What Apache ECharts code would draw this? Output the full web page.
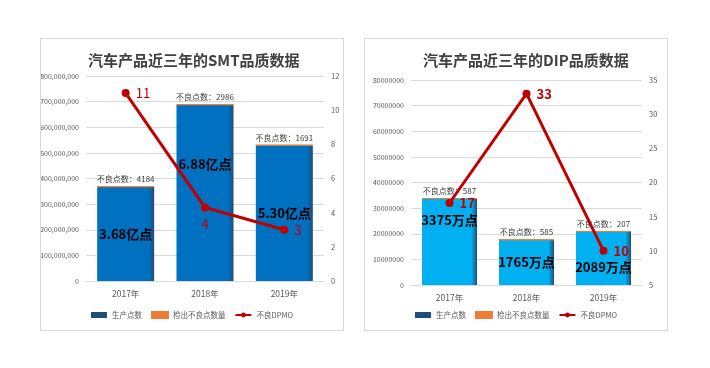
<!DOCTYPE html>
<html><head><meta charset="utf-8">
<script src="https://cdn.jsdelivr.net/npm/echarts@6/dist/echarts.min.js"></script>
<style>
html,body{margin:0;padding:0;background:#fff;width:710px;height:368px;overflow:hidden}
.p{position:absolute;top:38px;width:302px;height:291px;border:1.5px solid #d9d9d9;background:#fff}
</style></head><body>
<div id="c1" class="p" style="left:40px"></div>
<div id="c2" class="p" style="left:364px"></div>
<script>
// ---- data ----
var categories = ['2017年', '2018年', '2019年'];
var smtTitle = '汽车产品近三年的SMT品质数据';
var smtProduced = [368000000, 688000000, 530000000];
var smtProducedLabels = ['3.68亿点', '6.88亿点', '5.30亿点'];
var smtDefects = [4184, 2986, 1691];
var smtDPMO = [11, 4.3, 3];
var dipTitle = '汽车产品近三年的DIP品质数据';
var dipProduced = [33750000, 17650000, 20890000];
var dipProducedLabels = ['3375万点', '1765万点', '2089万点'];
var dipDefects = [587, 585, 207];
var dipDPMO = [17, 33, 10];
var seriesNames = ['生产点数', '检出不良点数量', '不良DPMO'];

var FONT = '"Noto Sans CJK SC","Noto Sans",sans-serif';

function build(cfg) {
  var barGrad = {type:'linear', x:0, y:0, x2:1, y2:0, colorStops:[
    {offset:0, color:cfg.barColor},{offset:0.9, color:cfg.barColor},{offset:1, color:cfg.barEdge}]};
  var producedData = cfg.produced.map(function(v, i){
    return {value:v, label:{offset:[0, cfg.innerOffsets[i]]}};
  });
  var lineData = cfg.dpmo.map(function(v, i){
    return {value:v, label:{position:cfg.linePos[i]}};
  });
  var grid = Object.assign({containLabel:false, outerBoundsMode:'none'}, cfg.grid);
  return {
    animation:false,
    textStyle:{fontFamily:FONT},
    title:{text:cfg.title, left:cfg.titleLeft, top:9,
      textStyle:{fontSize:15, fontWeight:'bold', color:'#404040', fontFamily:FONT}},
    legend:{bottom:6, left:'center', itemWidth:16, itemHeight:6, itemGap:9,
      textStyle:{fontSize:7.5, color:'#595959'},
      data:[{name:seriesNames[0], icon:'rect', itemStyle:{color:cfg.barEdge}},
            {name:seriesNames[1], icon:'rect'},
            {name:seriesNames[2]}]},
    grid:grid,
    xAxis:{type:'category', data:categories,
      axisLine:{lineStyle:{color:'#d9d9d9'}}, axisTick:{show:false},
      axisLabel:{fontSize:8.5, color:'#595959', margin:9}},
    yAxis:[
      {type:'value', min:0, max:cfg.leftMax, interval:cfg.leftInterval,
        axisLine:{show:false}, axisTick:{show:false},
        splitLine:{lineStyle:{color:'#d9d9d9'}},
        axisLabel:{fontSize:7, color:'#595959', margin:7, formatter:cfg.leftFmt}},
      {type:'value', min:cfg.rightMin, max:cfg.rightMax, interval:cfg.rightInterval,
        axisLine:{show:false}, axisTick:{show:false}, splitLine:{show:false},
        axisLabel:{fontSize:7.5, color:'#595959', margin:7}}
    ],
    series:[
      {name:seriesNames[0], type:'bar', stack:'s', barWidth:cfg.barWidth, data:producedData,
        itemStyle:{color:barGrad},
        label:{show:true, position:'inside', fontSize:13, fontWeight:'bold', color:'#000',
          formatter:function(p){return cfg.producedLabels[p.dataIndex];}}},
      {name:seriesNames[1], type:'bar', stack:'s', barWidth:cfg.barWidth, data:cfg.defects,
        itemStyle:{color:'#ed7d31', borderColor:'#ed7d31', borderWidth:1},
        label:{show:true, position:'top', distance:3, fontSize:8, color:'#404040',
          formatter:function(p){return '不良点数：' + p.value;}}},
      {name:seriesNames[2], type:'line', yAxisIndex:1, data:lineData,
        symbol:'circle', symbolSize:8,
        lineStyle:{color:'#c00000', width:3}, itemStyle:{color:'#c00000'},
        label:{show:true, fontSize:13, fontWeight:cfg.lineWeight, color:'#c00000', distance:6,
          formatter:function(p){return Math.round(p.value);}}}
    ]
  };
}

var c1 = echarts.init(document.getElementById('c1'));
c1.setOption(build({
  title:smtTitle, titleLeft:42,
  grid:{left:45, right:19, top:37, bottom:49},
  produced:smtProduced, producedLabels:smtProducedLabels, defects:smtDefects, dpmo:smtDPMO,
  innerOffsets:[0, -29, 0], linePos:['right','bottom','right'],
  barColor:'#0070c0', barEdge:'#1f4e79', barWidth:57,
  leftMax:800000000, leftInterval:100000000,
  leftFmt:function(v){return v.toString().replace(/\B(?=(\d{3})+(?!\d))/g, ',');},
  rightMin:0, rightMax:12, rightInterval:2, lineWeight:'normal'
}));
var c2 = echarts.init(document.getElementById('c2'));
c2.setOption(build({
  title:dipTitle, titleLeft:53,
  grid:{left:46, right:25, top:41, bottom:45},
  produced:dipProduced, producedLabels:dipProducedLabels, defects:dipDefects, dpmo:dipDPMO,
  innerOffsets:[-22, 0, 9], linePos:['right','right','right'],
  barColor:'#00b0f0', barEdge:'#1f4e79', barWidth:55,
  leftMax:80000000, leftInterval:10000000,
  leftFmt:function(v){return String(v);},
  rightMin:5, rightMax:35, rightInterval:5, lineWeight:'bold'
}));
</script>
</body></html>
